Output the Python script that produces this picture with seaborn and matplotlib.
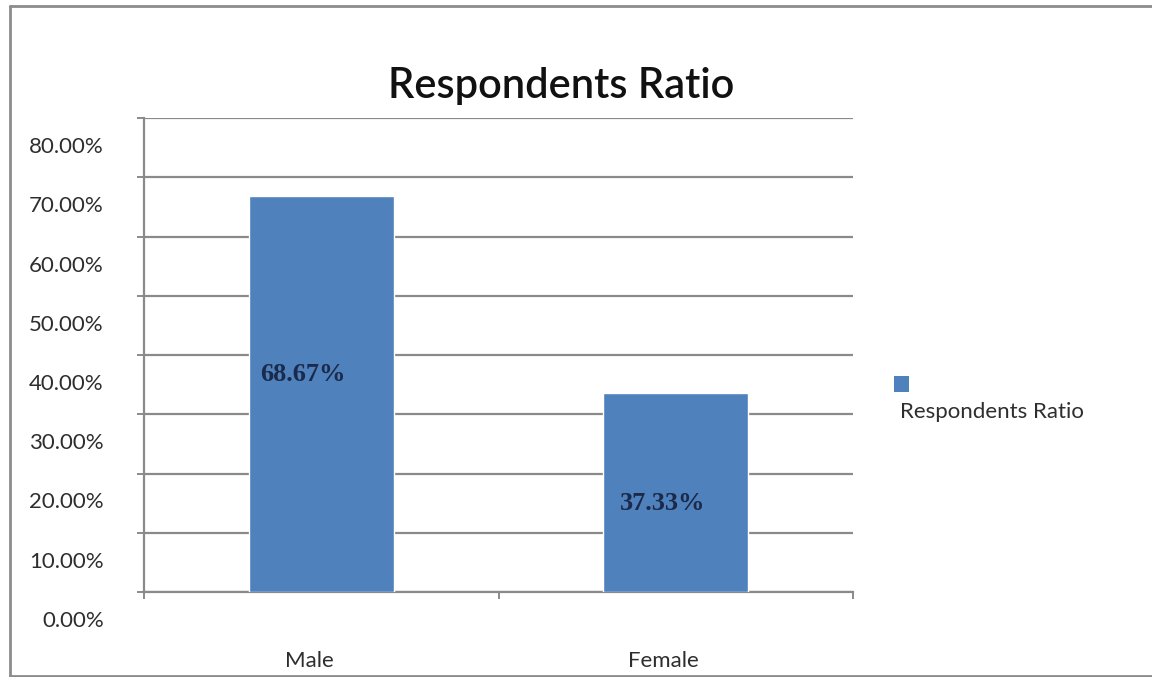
import matplotlib
matplotlib.use("Agg")
import matplotlib.pyplot as plt
import matplotlib.transforms as mtransforms
from matplotlib.lines import Line2D
from matplotlib.patches import Rectangle
import seaborn as sns
import pandas as pd

# ---- data ----
categories = ["Male", "Female"]
values = [0.668, 0.336]
label_texts = ["68.67%", "37.33%"]
series_name = "Respondents Ratio"
title = "Respondents Ratio"
yticks = [0.0, 0.1, 0.2, 0.3, 0.4, 0.5, 0.6, 0.7, 0.8]

sns.set_theme(style="white")
plt.rcParams["font.family"] = ["Lato", "DejaVu Sans"]

W, H = 1152, 677
fig = plt.figure(figsize=(W / 100, H / 100), dpi=100)
fig.patch.set_facecolor("white")

left, right, top, bottom = 144, 853, 118, 592
ax = fig.add_axes([left / W, 1 - bottom / H, (right - left) / W, (bottom - top) / H])

df = pd.DataFrame({"cat": categories, "val": values})
sns.barplot(data=df, x="cat", y="val", color="#4F81BD", saturation=1,
            width=0.41, ax=ax, zorder=3)

ax.set_xlim(-0.5, 1.5)
ax.set_ylim(0, 0.8)
ax.set_xlabel("")
ax.set_ylabel("")

grid_c = "#8a8a8a"
txt_c = "#2e2e2e"
ax.set_yticks(yticks)
ax.set_yticklabels([f"{t*100:.2f}%" for t in yticks])
ax.yaxis.grid(True, color=grid_c, lw=1.6, zorder=0)
ax.set_axisbelow(True)
ax.tick_params(axis="y", which="major", direction="out", length=5, width=1.4,
               color=grid_c, labelsize=16, labelcolor=txt_c, pad=24, left=True)

# category boundaries as major ticks, labels on minor ticks
ax.set_xticks([-0.5, 0.5, 1.5])
ax.set_xticklabels([])
ax.set_xticks([0, 1], minor=True)
ax.set_xticklabels(categories, minor=True)
ax.tick_params(axis="x", which="major", direction="out", length=5, width=1.4,
               color=grid_c, bottom=True)
ax.tick_params(axis="x", which="minor", length=0, labelsize=16,
               labelcolor=txt_c, pad=23)

for lab in ax.get_yticklabels():
    lab.set_transform(lab.get_transform() +
                      mtransforms.ScaledTranslation(0, -0.27, fig.dpi_scale_trans))
for lab in ax.get_xticklabels(minor=True):
    lab.set_transform(lab.get_transform() +
                      mtransforms.ScaledTranslation(-0.12, -0.27, fig.dpi_scale_trans))

for s in ["top", "right"]:
    ax.spines[s].set_visible(False)
for s in ["left", "bottom"]:
    ax.spines[s].set_color(grid_c)
    ax.spines[s].set_linewidth(1.6)

# data labels
label_offsets_px = [(-18, 20), (-13, -11)]
for i, (v, t) in enumerate(zip(values, label_texts)):
    dx, dy = label_offsets_px[i]
    ax.annotate(t, xy=(i, v / 2), xytext=(dx * 0.72, dy * 0.72),
                textcoords="offset points", ha="center", va="center",
                fontsize=19, fontweight="bold", color="#1b2a4a",
                family=["Liberation Serif", "DejaVu Serif"], zorder=5)

# title
fig.text(561 / W, 1 - 98 / H, title, ha="center", va="baseline",
         fontsize=30, fontweight="semibold", color="#111111")

# legend (marker above text)
fig.patches.append(Rectangle((894 / W, 1 - 392 / H), 15 / W, 16 / H,
                             transform=fig.transFigure, facecolor="#4F81BD",
                             edgecolor="none"))
fig.text(900 / W, 1 - 418 / H, series_name, ha="left", va="baseline",
         fontsize=16, color=txt_c)

# outer frame
fc = "#8c8c8c"
for xs, ys in [([10, 10], [6, 676]), ([10, W], [6, 6]), ([10, W], [676, 676])]:
    fig.add_artist(Line2D([x / W for x in xs], [1 - y / H for y in ys],
                          transform=fig.transFigure, color=fc, lw=2))

fig.savefig("out.png", dpi=100, facecolor="white")
